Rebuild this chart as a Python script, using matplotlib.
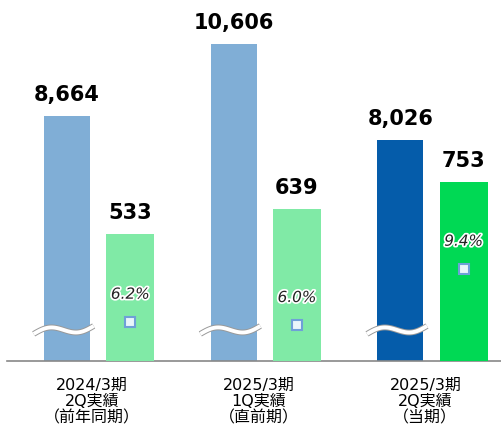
import numpy as np
import matplotlib.pyplot as plt
import matplotlib.patheffects as pe
import matplotlib.transforms as mtransforms

# dados do gráfico
periodos = ['2024/3期\n2Q実績\n（前年同期）', '2025/3期\n1Q実績\n（直前期）', '2025/3期\n2Q実績\n（当期）']
vendas = [8664, 10606, 8026]
lucro = [533, 639, 753]
margem = [6.2, 6.0, 9.4]

cor_vendas = ['#80aed6', '#80aed6', '#055caa']
cor_lucro = ['#80eaa6', '#80eaa6', '#00d954']

plt.rcParams['font.family'] = ['DejaVu Sans', 'Noto Sans CJK JP']

fig = plt.figure(figsize=(5.02, 4.34), dpi=100)
ax = fig.add_axes([7 / 502, 73 / 434, 495 / 502, 361 / 434])
ax2 = ax.twinx()
ax3 = ax.twinx()

x = np.arange(len(periodos))
xb = x - 0.15
xg = x + 0.23

# barras de vendas (eixo cortado)
ax.bar(xb, vendas, width=0.276, color=cor_vendas, zorder=2)
ax.set_ylim(2087, 11789)
# barras de lucro
ax2.bar(xg, lucro, width=0.288, color=cor_lucro, zorder=2)
ax2.set_ylim(0, 1521)
# margem
ax3.plot(xg, margem, linestyle='none', marker='s', markersize=7,
         markerfacecolor='#eaf6fb', markeredgecolor='#6fa0d8', markeredgewidth=1.5)
ax3.set_ylim(3.845, 25.64)

for a in (ax, ax2, ax3):
    a.set_xlim(-0.51, 2.46)
    a.set_yticks([])
    for s in a.spines.values():
        s.set_visible(False)
ax.spines['bottom'].set_visible(True)
ax.spines['bottom'].set_color('#888888')
ax.spines['bottom'].set_linewidth(1.2)

ax.set_xticks(x)
ax.set_xticklabels(periodos, fontsize=11.5, linespacing=1.1)
ax.tick_params(axis='x', length=0, pad=12)

# rótulos
for xi, v in zip(xb, vendas):
    ax.annotate(f'{v:,}', (xi, v), xytext=(0, 11), textcoords='offset points',
                ha='center', va='baseline', fontsize=15, fontweight='bold')
for xi, v in zip(xg, lucro):
    ax2.annotate(f'{v:,}', (xi, v), xytext=(0, 11), textcoords='offset points',
                 ha='center', va='baseline', fontsize=15, fontweight='bold')
for xi, m in zip(xg, margem):
    ax3.annotate(f'{m:.1f}%', (xi, m), xytext=(0, 20), textcoords='offset points',
                 ha='center', va='center', fontsize=11, fontstyle='italic',
                 color='#222222',
                 path_effects=[pe.withStroke(linewidth=2.5, foreground='white')])

# marca de corte ondulada
trans = mtransforms.blended_transform_factory(ax.transData, ax.transAxes)
t = np.linspace(0, 1, 60)
for xi in xb:
    wx = xi - 0.2 + t * 0.36
    wy = 0.086 + 0.022 * (t - 0.5) + 0.012 * np.sin(2 * np.pi * t)
    ax.plot(wx, wy, transform=trans, color='#999999', lw=4.2, zorder=3,
            solid_capstyle='butt', clip_on=False)
    ax.plot(wx, wy, transform=trans, color='white', lw=2.8, zorder=4,
            solid_capstyle='butt', clip_on=False)

fig.savefig('out.png', dpi=100)
